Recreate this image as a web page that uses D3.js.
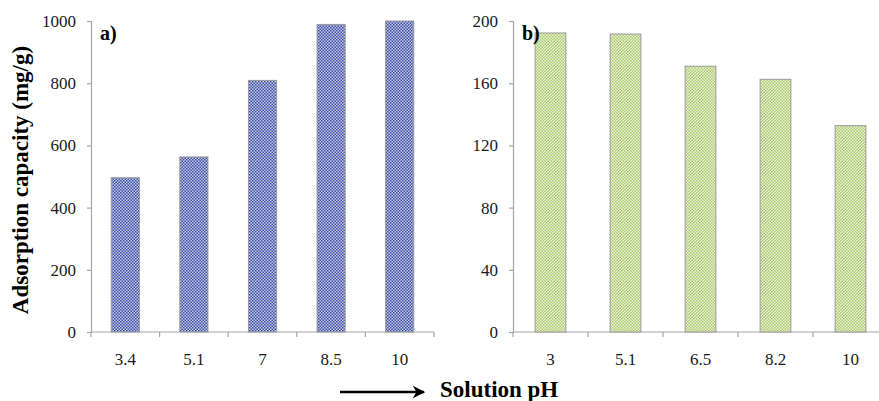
<!DOCTYPE html>
<html>
<head>
<meta charset="utf-8">
<script src="https://cdn.jsdelivr.net/npm/d3@7"></script>
<style>
  body { margin: 0; background: #fff; }
  svg { display: block; font-family: "Liberation Serif", "Times New Roman", serif; }
</style>
</head>
<body>
<div id="chart"></div>
<script>
// panel a)
var phA = ["3.4", "5.1", "7", "8.5", "10"];
var capA = [496, 563, 809, 989, 1000];
var ticksA = [0, 200, 400, 600, 800, 1000];

// panel b)
var phB = ["3", "5.1", "6.5", "8.2", "10"];
var capB = [192.3, 191.6, 170.9, 162.5, 132.7];
var ticksB = [0, 40, 80, 120, 160, 200];

var W = 879, H = 401;

var svg = d3.select("#chart").append("svg")
    .attr("width", W)
    .attr("height", H);

// hatch-like fill patterns (small checkerboards)
var defs = svg.append("defs");
function checker(id, light, dark) {
  var p = defs.append("pattern")
      .attr("id", id)
      .attr("width", 3).attr("height", 3)
      .attr("patternUnits", "userSpaceOnUse");
  p.append("rect").attr("width", 3).attr("height", 3).attr("fill", light);
  p.append("rect").attr("width", 1.5).attr("height", 1.5).attr("fill", dark);
  p.append("rect").attr("x", 1.5).attr("y", 1.5).attr("width", 1.5).attr("height", 1.5).attr("fill", dark);
}
checker("patA", "#c3caea", "#3a4ca0");
checker("patB", "#eef5d6", "#a9c86e");

function panel(opts) {
  var x = d3.scaleBand()
      .domain(opts.cats)
      .range([opts.x0, opts.x1])
      .paddingInner(opts.pad)
      .paddingOuter(opts.pad / 2);

  var y = d3.scaleLinear()
      .domain([0, opts.max])
      .range([332, 21]);

  var g = svg.append("g");

  // y axis
  var ya = g.append("g")
      .attr("transform", "translate(" + opts.x0 + ",0)")
      .call(d3.axisLeft(y).tickValues(opts.ticks).tickFormat(d3.format("d"))
            .tickSize(4).tickPadding(11));
  ya.attr("font-size", 17).attr("font-family", "Liberation Serif, serif");

  // x axis with ticks on category boundaries
  var bounds = opts.cats.map(function (c, i) { return opts.x0 + i * x.step(); });
  bounds.push(opts.x1);
  var xa = g.append("g")
      .attr("transform", "translate(0,332)");
  xa.append("line")
      .attr("x1", opts.x0).attr("x2", opts.x1)
      .attr("stroke", "#a6a6a6").attr("stroke-width", 1.2);
  xa.selectAll(".bt").data(bounds).enter().append("line")
      .attr("x1", function (d) { return d; })
      .attr("x2", function (d) { return d; })
      .attr("y1", 0).attr("y2", 5)
      .attr("stroke", "#a6a6a6").attr("stroke-width", 1.2);
  xa.selectAll(".lbl").data(opts.cats).enter().append("text")
      .attr("x", function (d) { return x(d) + x.bandwidth() / 2; })
      .attr("y", 33)
      .attr("text-anchor", "middle")
      .attr("font-size", 17)
      .attr("fill", "#1a1a1a")
      .text(function (d) { return d; });

  ya.select(".domain").attr("stroke", "#a6a6a6").attr("stroke-width", 1.2);
  ya.selectAll(".tick line").attr("stroke", "#a6a6a6").attr("stroke-width", 1.2);
  ya.selectAll(".tick text").attr("fill", "#1a1a1a");

  // bars
  g.selectAll(".bar")
      .data(opts.cats.map(function (c, i) { return { ph: c, v: opts.vals[i] }; }))
      .enter().append("rect")
      .attr("x", function (d) { return x(d.ph); })
      .attr("y", function (d) { return y(d.v); })
      .attr("width", x.bandwidth())
      .attr("height", function (d) { return y(0) - y(d.v); })
      .attr("fill", opts.fill)
      .attr("stroke", "#9a9a9a")
      .attr("stroke-width", 1);

  g.append("text")
      .attr("x", opts.labX)
      .attr("y", 40)
      .attr("font-size", 20)
      .attr("font-weight", "bold")
      .text(opts.label);
}

panel({ cats: phA, vals: capA, max: 1000, ticks: ticksA, x0: 91, x1: 434, pad: 0.59,
        fill: "url(#patA)", label: "a)", labX: 100 });
panel({ cats: phB, vals: capB, max: 200, ticks: ticksB, x0: 513, x1: 888, pad: 0.59,
        fill: "url(#patB)", label: "b)", labX: 522 });

// y title
svg.append("text")
    .attr("transform", "translate(28,180) rotate(-90)")
    .attr("text-anchor", "middle")
    .attr("font-size", 23)
    .attr("font-weight", "bold")
    .text("Adsorption capacity (mg/g)");

// x title with arrow
svg.append("defs").append("marker")
    .attr("id", "arr")
    .attr("viewBox", "0 0 10 10")
    .attr("refX", 9).attr("refY", 5)
    .attr("markerWidth", 5).attr("markerHeight", 5)
    .attr("markerUnits", "strokeWidth")
    .attr("orient", "auto")
    .append("path")
    .attr("d", "M0,0 L10,5 L0,10 L3,5 Z")
    .attr("fill", "#000");
svg.append("line")
    .attr("x1", 340).attr("x2", 424)
    .attr("y1", 392).attr("y2", 392)
    .attr("stroke", "#000").attr("stroke-width", 2.5)
    .attr("marker-end", "url(#arr)");
svg.append("text")
    .attr("x", 440)
    .attr("y", 397)
    .attr("font-size", 23)
    .attr("font-weight", "bold")
    .text("Solution pH");
</script>
</body>
</html>
